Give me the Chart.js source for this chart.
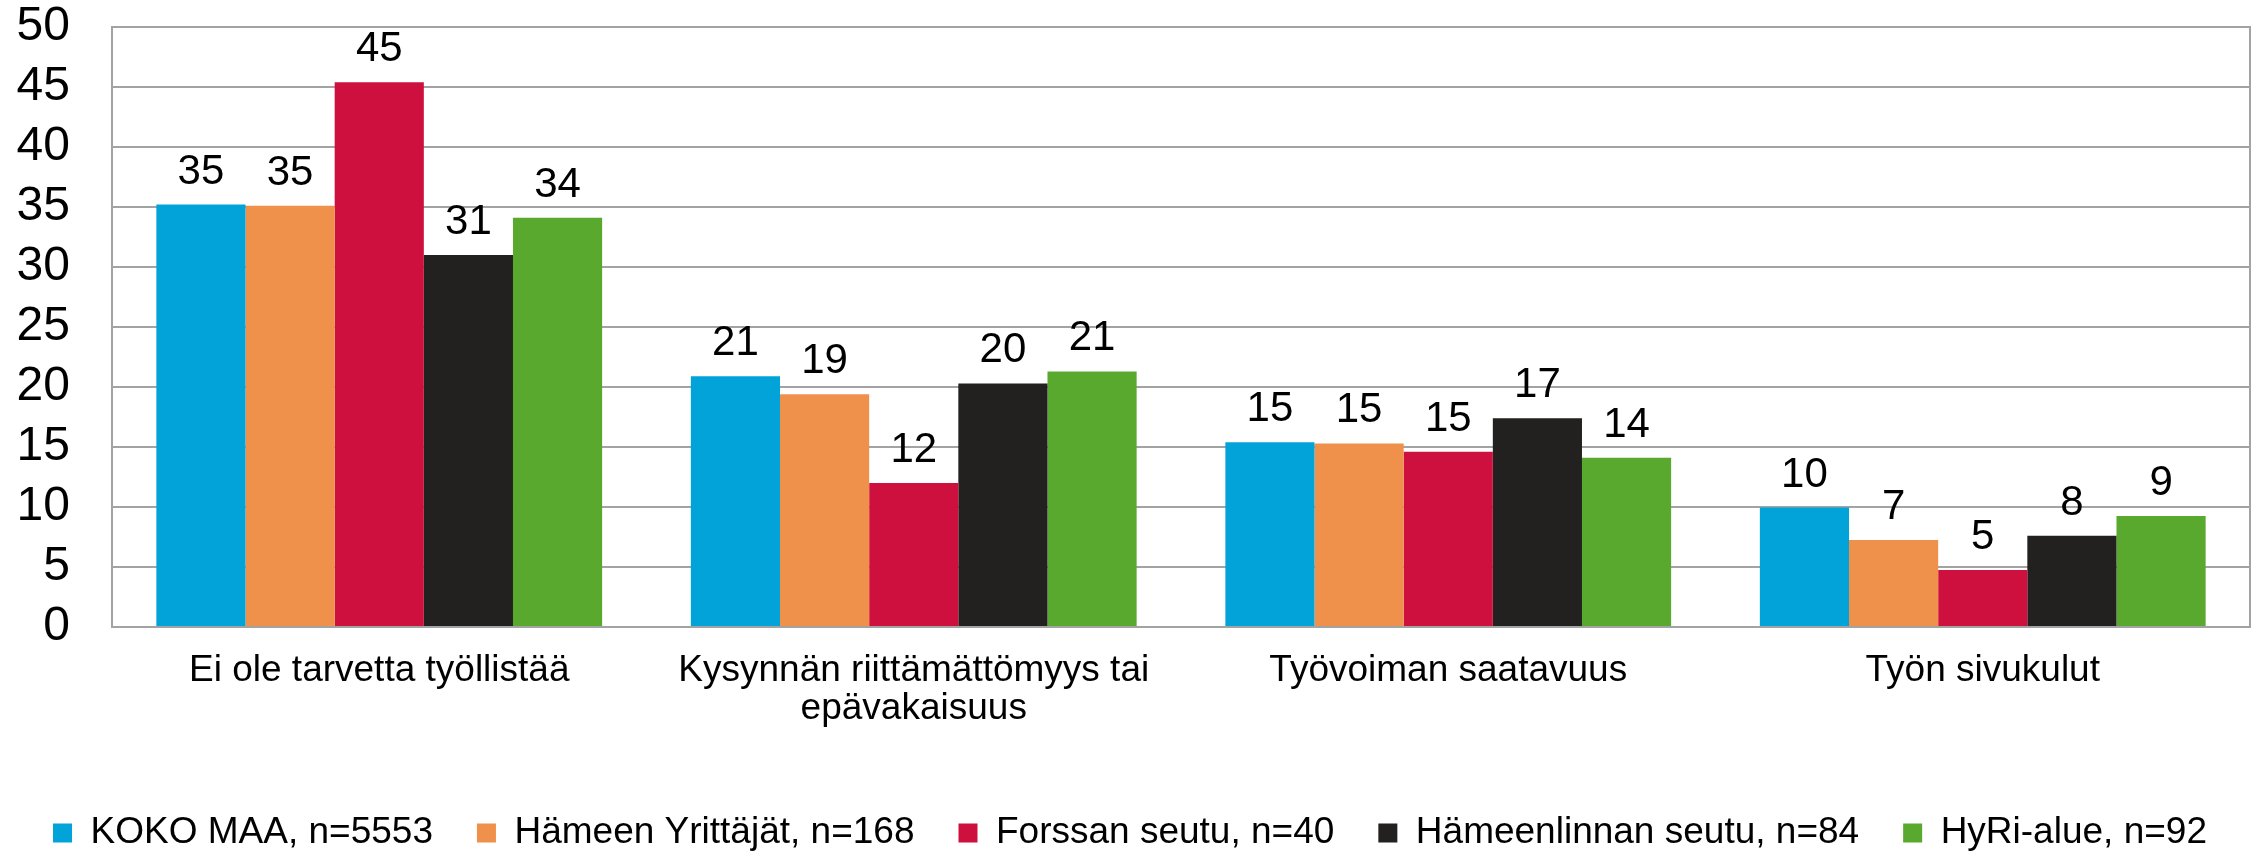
<!DOCTYPE html>
<html>
<head>
<meta charset="utf-8">
<script src="https://cdn.jsdelivr.net/npm/chart.js@4.4.1/dist/chart.umd.min.js"></script>
<style>
  html, body { margin: 0; padding: 0; background: #ffffff; }
  #wrap { width: 2260px; height: 852px; }
</style>
</head>
<body>
<div id="wrap"><canvas id="c" width="2260" height="852"></canvas></div>
<script>
// ---- Data ----
const categories = [
  "Ei ole tarvetta työllistää",
  ["Kysynnän riittämättömyys tai", "epävakaisuus"],
  "Työvoiman saatavuus",
  "Työn sivukulut"
];
const seriesNames = [
  "KOKO MAA, n=5553",
  "Hämeen Yrittäjät, n=168",
  "Forssan seutu, n=40",
  "Hämeenlinnan seutu, n=84",
  "HyRi-alue, n=92"
];
const kokoMaa           = [35.2, 20.9, 15.4, 9.95];
const hameenYrittajat   = [35.1, 19.4, 15.3, 7.25];
const forssanSeutu      = [45.4, 12.0, 14.6, 4.75];
const hameenlinnanSeutu = [31.0, 20.3, 17.4, 7.6];
const hyriAlue          = [34.1, 21.3, 14.1, 9.25];
const yTickValues = [0, 5, 10, 15, 20, 25, 30, 35, 40, 45, 50];

const seriesColors = ["#02a3d9", "#f0914b", "#ce103e", "#22211f", "#58a92e"];
const seriesValues = [kokoMaa, hameenYrittajat, forssanSeutu, hameenlinnanSeutu, hyriAlue];

const FONT = '"Liberation Sans", Arial, sans-serif';
const GRID = '#a3a3a3';

const valueLabels = {
  id: 'valueLabels',
  afterDatasetsDraw(chart) {
    const ctx = chart.ctx;
    ctx.save();
    ctx.font = '42px ' + FONT;
    ctx.fillStyle = '#000000';
    ctx.textAlign = 'center';
    ctx.textBaseline = 'alphabetic';
    chart.data.datasets.forEach((ds, i) => {
      chart.getDatasetMeta(i).data.forEach((bar, j) => {
        ctx.fillText(String(Math.round(ds.data[j])), bar.x, bar.y - 21);
      });
    });
    ctx.restore();
  }
};

new Chart(document.getElementById('c'), {
  type: 'bar',
  data: {
    labels: categories,
    datasets: seriesNames.map((name, i) => ({
      label: name,
      data: seriesValues[i],
      backgroundColor: seriesColors[i],
      borderWidth: 0,
      barPercentage: 1.0,
      categoryPercentage: 0.834
    }))
  },
  plugins: [valueLabels],
  options: {
    responsive: false,
    animation: false,
    devicePixelRatio: 1,
    layout: { padding: { top: 27, right: 0, bottom: -9.5, left: 0 } },
    plugins: {
      legend: {
        position: 'bottom',
        labels: {
          boxWidth: 19,
          boxHeight: 19,
          padding: 44,
          color: '#000000',
          font: { size: 37, family: FONT }
        }
      },
      tooltip: { enabled: false }
    },
    scales: {
      x: {
        grid: { display: false, drawTicks: false },
        border: { display: true, color: GRID, width: 2 },
        ticks: {
          color: '#000000',
          font: { size: 37, family: FONT, lineHeight: 1.05 },
          padding: 24,
          maxRotation: 0,
          autoSkip: false
        },
        afterFit(s) { s.height = 143.5; }
      },
      y: {
        min: 0,
        max: 50,
        afterBuildTicks(s) { s.ticks = yTickValues.map(v => ({ value: v })); },
        ticks: {
          color: '#000000',
          font: { size: 48, family: FONT, lineHeight: 1.0 },
          padding: 0
        },
        grid: { color: GRID, lineWidth: 2, drawTicks: true, tickLength: 42, tickColor: 'rgba(0,0,0,0)' },
        border: { display: true, color: GRID, width: 2 },
        afterFit(s) { s.width = 112; }
      },
      yRight: {
        position: 'right',
        min: 0,
        max: 50,
        ticks: { display: false, padding: 0 },
        grid: { drawOnChartArea: false, drawTicks: false },
        border: { display: true, color: GRID, width: 2 },
        afterFit(s) { s.width = 10; }
      }
    }
  }
});
</script>
</body>
</html>
